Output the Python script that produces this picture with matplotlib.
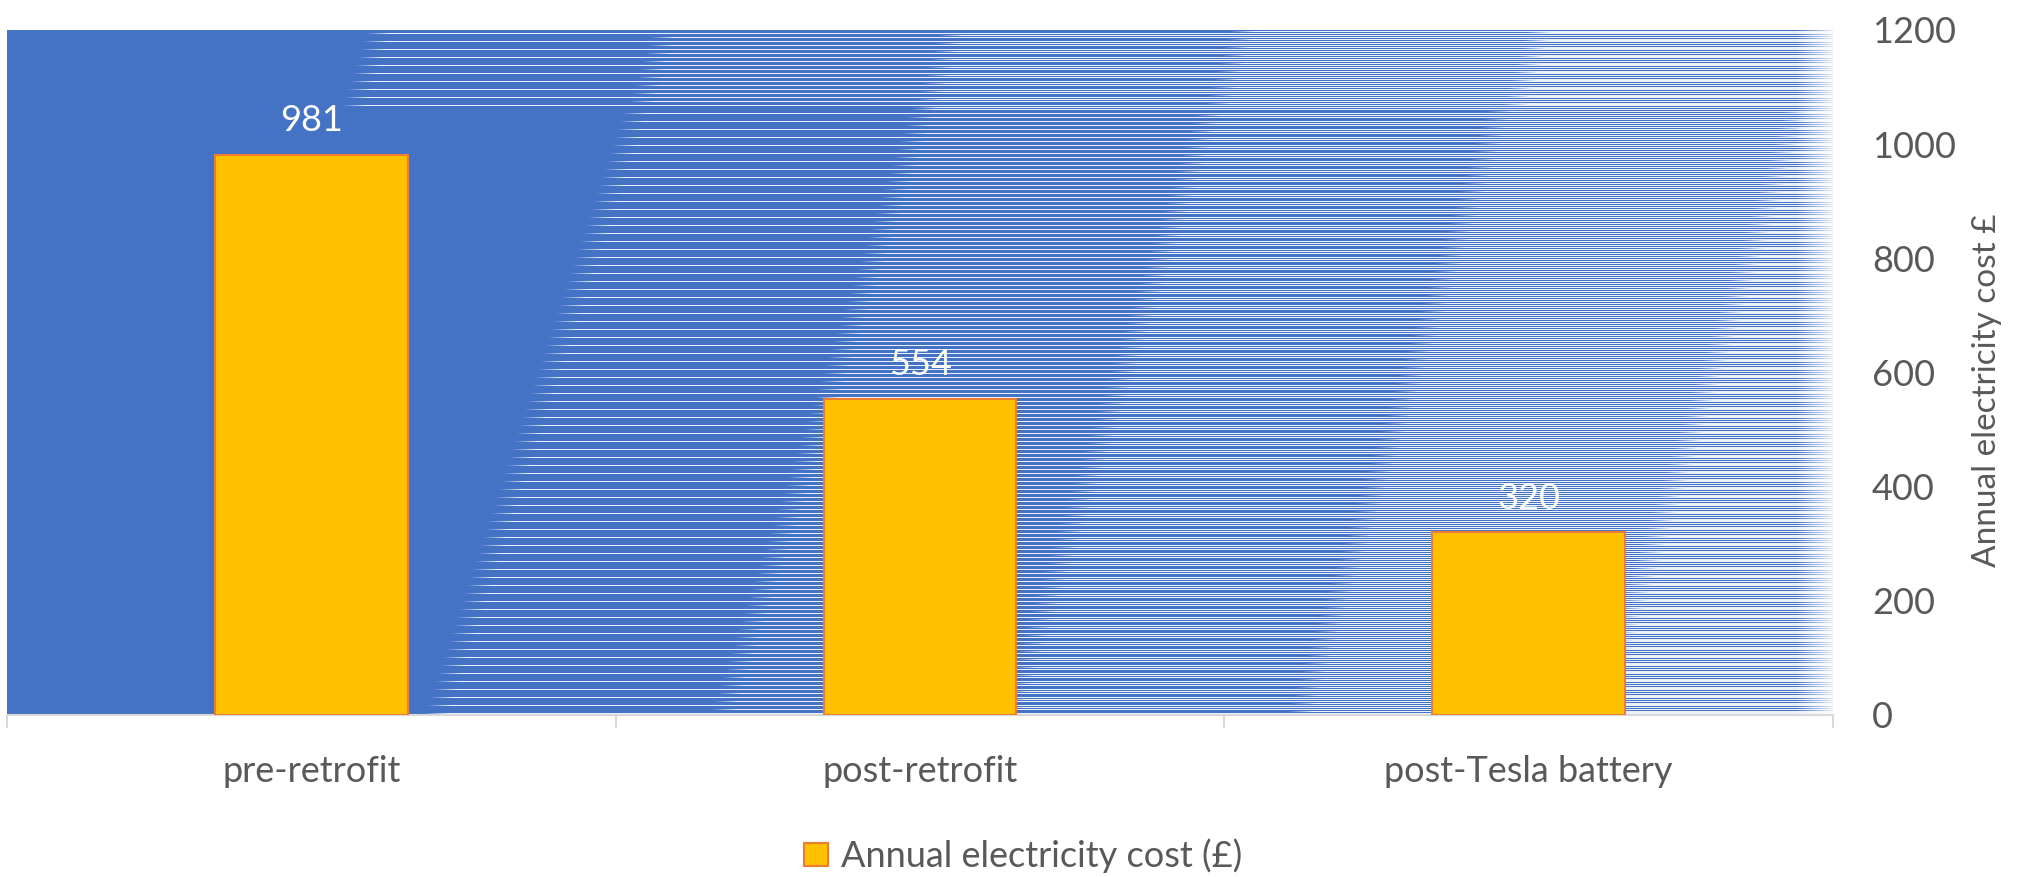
import numpy as np
import matplotlib.pyplot as plt
from matplotlib.ticker import FixedLocator

# chart data
categories = ["pre-retrofit", "post-retrofit", "post-Tesla battery"]
annual_cost = [981, 554, 320]
y_ticks = [0, 200, 400, 600, 800, 1000, 1200]
series_name = "Annual electricity cost (£)"
y_title = "Annual electricity cost £"

W, H, DPI = 2022, 877, 100
# plot area in pixels (left, top, right, bottom)
L, T, R, B = 7, 30, 1833, 715

BLUE = np.array([0x44, 0x72, 0xC4]) / 255.0
WHITE = np.ones(3)
BAR = "#FFC000"
EDGE = "#ED7D31"
GREY = "#595959"

plt.rcParams["font.family"] = ["Lato", "DejaVu Sans"]


def plot_area_fill():
    # blue fill with white hairlines that get denser toward the right
    w, h = R - L, B - T
    xs = np.arange(w)[None, :] + L
    ys = np.arange(h)[:, None] + T
    shift = -0.33 * (ys - 30) + np.where(ys >= 108, 283, 0)
    starts = [366, 652, 939, 1229, 1527]
    # which density step turns each pixel row white
    row_step = {1: 0, 5: 1, 3: 2, 7: 3, 0: 4, 4: 5, 2: 5, 6: 5}
    step = np.vectorize(row_step.get)(ys % 8)
    white = np.zeros((h, w))
    for k, x0 in enumerate(starts):
        a = np.clip((xs - (x0 + shift)) / 25.0, 0, 1)
        white = np.where(step == k, a * 0.9, white)
    # fade out at the right edge
    fade = np.clip((xs - 1795) / 38.0, 0, 1)
    white = white + (1 - white) * fade * 0.85
    img = BLUE[None, None, :] * (1 - white[..., None]) + WHITE * white[..., None]
    return img


fig = plt.figure(figsize=(W / DPI, H / DPI), dpi=DPI)
fig.figimage(plot_area_fill(), xo=L, yo=H - B, origin="upper", zorder=-10)

ax = fig.add_axes([L / W, (H - B) / H, (R - L) / W, (B - T) / H])
ax.patch.set_alpha(0)

x = np.arange(len(categories))
bars = ax.bar(x, annual_cost, width=0.316, color=BAR, edgecolor=EDGE,
              linewidth=1.5, label=series_name, zorder=3)
for xi, v in zip(x, annual_cost):
    ax.annotate(f"{v}", (xi, v), xytext=(0, 17), textcoords="offset points",
                ha="center", va="baseline", color="white", fontsize=26,
                zorder=4)

ax.set_xlim(-0.5, len(categories) - 0.5)
ax.set_ylim(0, 1200)

for side in ["top", "left", "right"]:
    ax.spines[side].set_visible(False)
ax.spines["bottom"].set_color("#D9D9D9")
ax.spines["bottom"].set_linewidth(1.5)

ax.set_xticks(x)
ax.set_xticklabels(categories)
ax.xaxis.set_minor_locator(FixedLocator(np.arange(len(categories) + 1) - 0.5))
ax.tick_params(axis="x", which="major", length=0, pad=29, labelsize=26,
               labelcolor=GREY)
ax.tick_params(axis="x", which="minor", length=9, width=1.5, color="#D9D9D9")

ax.yaxis.tick_right()
ax.set_yticks(y_ticks)
ax.tick_params(axis="y", length=0, pad=28, labelsize=26, labelcolor=GREY)

fig.text(1987 / W, 1 - 390 / H, y_title, rotation=90, ha="center",
         va="center", fontsize=24, color=GREY)

ax.legend(loc="center", bbox_to_anchor=(1023 / W, 1 - 856 / H),
          bbox_transform=fig.transFigure, frameon=False, fontsize=26,
          labelcolor=GREY, handlelength=0.66, handleheight=0.61,
          handletextpad=0.35)

fig.savefig("out.png", dpi=DPI)
